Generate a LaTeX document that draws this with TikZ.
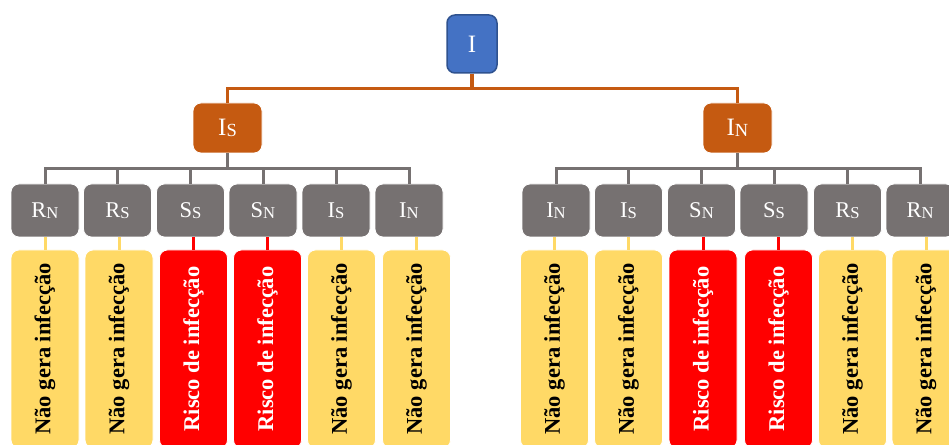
\documentclass[tikz,border=0pt]{standalone}
\usepackage{fontspec}
\usepackage{graphicx}
\setmainfont{Liberation Serif}
\definecolor{cblue}{HTML}{4472C4}
\definecolor{cblueb}{HTML}{2F528F}
\definecolor{corange}{HTML}{C55A11}
\definecolor{cgray}{HTML}{767171}
\definecolor{cyellow}{HTML}{FFD966}
\definecolor{cred}{HTML}{FF0000}
\newcommand\sublab[2]{#1\raisebox{-1pt}{\scalebox{0.74}{#2}}}
\begin{document}
\begin{tikzpicture}[x=1pt,y=1pt,
  box/.style={rounded corners=8pt, draw=white, line width=0.8pt, inner sep=0pt, text=white, font=\fontsize{22.5}{26}\selectfont},
  topbox/.style={box, fill=cblue, draw=cblueb, line width=1.5pt, minimum width=50pt, minimum height=58pt, font=\fontsize{25}{28}\selectfont},
  midbox/.style={box, fill=corange, minimum width=69pt, minimum height=50pt, font=\fontsize{25}{28}\selectfont},
  leafbox/.style={box, fill=cgray, minimum width=68pt, minimum height=53pt},
  nobox/.style={box, fill=cyellow, text=black, minimum width=68pt, minimum height=198pt, font=\fontsize{22.5}{26}\selectfont\bfseries},
  riskbox/.style={nobox, fill=cred, text=white},
  orangeline/.style={draw=corange, line width=3.2pt},
  grayline/.style={draw=cgray, line width=3pt},
  yline/.style={draw=cyellow, line width=3pt},
  rline/.style={draw=cred, line width=3pt}
]
\useasboundingbox (0,0) rectangle (949,444);
\clip (0,0) rectangle (949,444);

\node[topbox] (I) at (472,400) {I};
\node[midbox] (IS) at (227.5,316) {\sublab{I}{S}};
\node[midbox] (IN) at (737.5,316) {\sublab{I}{N}};

% left leaves
\node[leafbox] (L1) at (45,233.5)  {\sublab{R}{N}};
\node[leafbox] (L2) at (117.5,233.5) {\sublab{R}{S}};
\node[leafbox] (L3) at (190.5,233.5) {\sublab{S}{S}};
\node[leafbox] (L4) at (263,233.5) {\sublab{S}{N}};
\node[leafbox] (L5) at (336,233.5) {\sublab{I}{S}};
\node[leafbox] (L6) at (409,233.5) {\sublab{I}{N}};
% right leaves
\node[leafbox] (R1) at (556,233.5)  {\sublab{I}{N}};
\node[leafbox] (R2) at (628.5,233.5) {\sublab{I}{S}};
\node[leafbox] (R3) at (701.5,233.5) {\sublab{S}{N}};
\node[leafbox] (R4) at (774,233.5) {\sublab{S}{S}};
\node[leafbox] (R5) at (847.5,233.5) {\sublab{R}{S}};
\node[leafbox] (R6) at (920,233.5) {\sublab{R}{N}};

% outcome boxes
\node[nobox]   (YL1) at (45,95)    {\rotatebox{90}{Não gera infecção}};
\node[nobox]   (YL2) at (119,95)   {\rotatebox{90}{Não gera infecção}};
\node[riskbox] (YL3) at (193.5,95) {\rotatebox{90}{Risco de infecção}};
\node[riskbox] (YL4) at (267.5,95) {\rotatebox{90}{Risco de infecção}};
\node[nobox]   (YL5) at (341.5,95) {\rotatebox{90}{Não gera infecção}};
\node[nobox]   (YL6) at (416.5,95) {\rotatebox{90}{Não gera infecção}};
\node[nobox]   (YR1) at (554.5,95) {\rotatebox{90}{Não gera infecção}};
\node[nobox]   (YR2) at (628.5,95) {\rotatebox{90}{Não gera infecção}};
\node[riskbox] (YR3) at (703,95)   {\rotatebox{90}{Risco de infecção}};
\node[riskbox] (YR4) at (778.5,95) {\rotatebox{90}{Risco de infecção}};
\node[nobox]   (YR5) at (852.5,95) {\rotatebox{90}{Não gera infecção}};
\node[nobox]   (YR6) at (926,95)   {\rotatebox{90}{Não gera infecção}};

% connectors
\draw[orangeline] (I.south) -- ++(0,-15) -| (IS.north);
\draw[orangeline] (I.south) -- ++(0,-15) -| (IN.north);
\foreach \k in {1,...,6}{
  \draw[grayline] (IS.south) -- ++(0,-15) -| (L\k.north);
  \draw[grayline] (IN.south) -- ++(0,-15) -| (R\k.north);
}
\foreach \k in {1,2,5,6}{
  \draw[yline] (YL\k.north) -- (YL\k.north |- L\k.south);
  \draw[yline] (YR\k.north) -- (YR\k.north |- R\k.south);
}
\foreach \k in {3,4}{
  \draw[rline] (YL\k.north) -- (YL\k.north |- L\k.south);
  \draw[rline] (YR\k.north) -- (YR\k.north |- R\k.south);
}
\end{tikzpicture}
\end{document}
